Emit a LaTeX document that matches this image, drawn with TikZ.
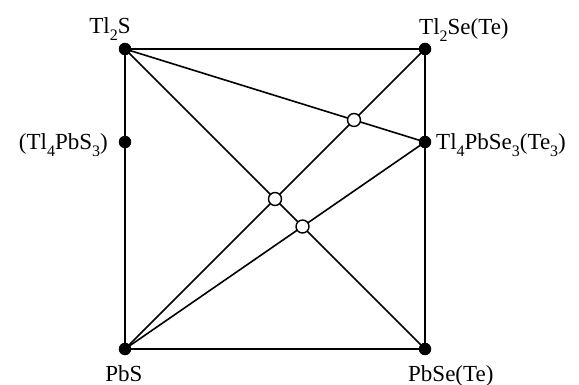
\documentclass[tikz,border=0pt]{standalone}
\usepackage{fontspec}
\setmainfont{Liberation Serif}
\newcommand\sbs[1]{\raisebox{-0.28em}{\fontsize{16}{16}\selectfont #1}}
\begin{document}
\begin{tikzpicture}[x=1pt,y=-1pt,
  edge/.style={line width=1.6pt,black},
  pt/.style={circle,fill=black,inner sep=0pt,minimum size=12.5pt},
  opn/.style={circle,draw=black,fill=white,line width=1.4pt,inner sep=0pt,minimum size=13pt},
  lbl/.style={font=\fontsize{23}{27}\selectfont,inner sep=0pt}]
\useasboundingbox (0,0) rectangle (579,385);
\coordinate (a) at (125,49);
\coordinate (b) at (425,49);
\coordinate (c) at (125,349);
\coordinate (d) at (425,349);
\coordinate (e) at (425,142);
\coordinate (f) at (125,142);
% edges
\draw[edge] (a) -- (b) -- (d) -- (c) -- (a);
\draw[edge] (a) -- (d);
\draw[edge] (c) -- (b);
\draw[edge] (a) -- (e);
\draw[edge] (c) -- (e);
% open circles at intersections
\node[opn] (o1) at (intersection of a--e and c--b) {};
\node[opn] (o2) at (intersection of a--d and c--b) {};
\node[opn] (o3) at (intersection of a--d and c--e) {};
% dots
\node[pt] (A) at (a) {};
\node[pt] (B) at (b) {};
\node[pt] (C) at (c) {};
\node[pt] (D) at (d) {};
\node[pt] (E) at (e) {};
\node[pt] (F) at (f) {};
% labels
\node[lbl,anchor=base] (LA) at (110,34) {Tl\sbs{2}S};
\node[lbl,anchor=base west] (LB) at (419,35) {Tl\sbs{2}Se(Te)};
\node[lbl,anchor=base] (LC) at (124,381) {PbS};
\node[lbl,anchor=base west] (LD) at (408,381) {PbSe(Te)};
\node[lbl,anchor=base west] (LE) at (436,150) {Tl\sbs{4}PbSe\sbs{3}(Te\sbs{3})};
\node[lbl,anchor=base east] (LF) at (108,150) {(Tl\sbs{4}PbS\sbs{3})};
\end{tikzpicture}
\end{document}
